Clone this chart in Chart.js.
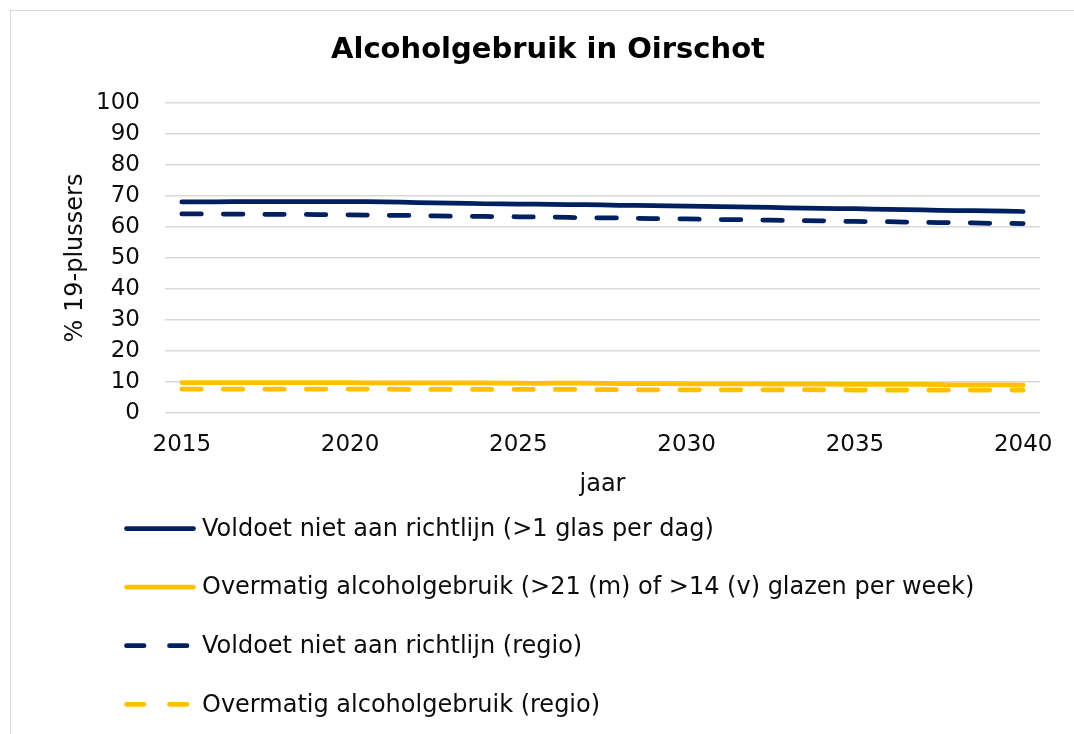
<!DOCTYPE html>
<html lang="nl">
<head>
  <meta charset="UTF-8" />
  <title>Alcoholgebruik in Oirschot</title>
  <script src="https://cdn.jsdelivr.net/npm/chart.js"></script>
  <style>
    body {
      margin: 0;
      background: #ffffff;
      font-family: "DejaVu Sans", Verdana, sans-serif;
    }

    .frame {
      position: absolute;
      left: 10px;
      top: 10px;
      width: 1100px;
      height: 760px;
      border: 1px solid #d9d9d9;
    }

    .wrap {
      position: absolute;
      left: 0;
      top: 0;
      width: 1074px;
      height: 734px;
    }
  </style>
</head>
<body>

<div class="frame"></div>
<div class="wrap">
  <canvas id="grafiek" width="1074" height="734"></canvas>
</div>

<script>
  // jaren op de x-as
  const jaren = ['2015', '2016', '2017', '2018', '2019', '2020', '2021', '2022', '2023', '2024', '2025', '2026', '2027',
                 '2028', '2029', '2030', '2031', '2032', '2033', '2034', '2035', '2036', '2037', '2038', '2039', '2040'];

  // Oirschot
  const richtlijn = [68.1, 68.1, 68.2, 68.2, 68.2, 68.2, 68.1, 67.9, 67.7, 67.5, 67.4, 67.3, 67.2,
                     67.0, 66.9, 66.7, 66.6, 66.4, 66.2, 66.0, 65.9, 65.7, 65.5, 65.3, 65.2, 65.0];
  const overmatig = [9.8, 9.8, 9.8, 9.8, 9.8, 9.8, 9.7, 9.7, 9.7, 9.7, 9.6, 9.6, 9.6,
                     9.5, 9.5, 9.4, 9.4, 9.4, 9.3, 9.3, 9.2, 9.2, 9.2, 9.1, 9.1, 9.0];

  // regio
  const richtlijnRegio = [64.2, 64.2, 64.1, 64.1, 64.0, 63.9, 63.8, 63.7, 63.5, 63.4, 63.3, 63.2, 63.0,
                          62.9, 62.7, 62.6, 62.4, 62.3, 62.1, 62.0, 61.8, 61.7, 61.5, 61.4, 61.2, 61.1];
  const overmatigRegio = [7.7, 7.7, 7.7, 7.7, 7.7, 7.7, 7.7, 7.6, 7.6, 7.6, 7.6, 7.6, 7.6,
                          7.5, 7.5, 7.5, 7.5, 7.5, 7.5, 7.5, 7.4, 7.4, 7.4, 7.4, 7.4, 7.4];

  const labels = [
    'Voldoet niet aan richtlijn (>1 glas per dag)',
    'Overmatig alcoholgebruik (>21 (m) of >14 (v) glazen per week)',
    'Voldoet niet aan richtlijn (regio)',
    'Overmatig alcoholgebruik (regio)'
  ];

  const titel = 'Alcoholgebruik in Oirschot';
  const yMin = 0, yMax = 100, yStap = 10;

  const blauw = '#002060';
  const geel = '#FFC000';
  const streep = [19.5, 22];
  const dikte = 4.75;
  const tekstKleur = '#0d0d0d';
  const letter = '"DejaVu Sans", Verdana, sans-serif';

  function lijn(label, data, kleur, gestreept) {
    return {
      label: label,
      data: data,
      borderColor: kleur,
      backgroundColor: kleur,
      borderWidth: dikte,
      borderDash: gestreept ? streep : [],
      borderCapStyle: 'round',
      borderJoinStyle: 'round',
      pointRadius: 0,
      tension: 0.3,
      fill: false
    };
  }

  // titel (gecentreerd over het hele kader) en legenda onder de grafiek, één regel per reeks
  const titelEnLegenda = {
    id: 'titelEnLegenda',
    afterDraw(chart) {
      const ctx = chart.ctx;
      ctx.save();
      ctx.fillStyle = '#000000';
      ctx.font = 'bold 29px ' + letter;
      ctx.textAlign = 'center';
      ctx.textBaseline = 'middle';
      ctx.fillText(titel, 548, 50);
      ctx.restore();

      chart.data.datasets.forEach((ds, i) => {
        const y = 528.5 + i * 58.6;
        ctx.save();
        ctx.strokeStyle = ds.borderColor;
        ctx.lineWidth = ds.borderWidth;
        ctx.lineCap = 'round';
        ctx.setLineDash(ds.borderDash.length ? [17.5, 25.5] : []);
        ctx.beginPath();
        ctx.moveTo(126.5, y);
        ctx.lineTo(193.5, y);
        ctx.stroke();
        ctx.setLineDash([]);
        ctx.fillStyle = tekstKleur;
        ctx.font = '24px ' + letter;
        ctx.textBaseline = 'middle';
        ctx.fillText(ds.label, 202, y + 1);
        ctx.restore();
      });
    }
  };

  new Chart(document.getElementById('grafiek'), {
    type: 'line',
    data: {
      labels: jaren,
      datasets: [
        lijn(labels[0], richtlijn, blauw, false),
        lijn(labels[1], overmatig, geel, false),
        lijn(labels[2], richtlijnRegio, blauw, true),
        lijn(labels[3], overmatigRegio, geel, true)
      ]
    },
    options: {
      responsive: false,
      animation: false,
      events: [],
      layout: {
        padding: { left: 0, right: 34, top: 103, bottom: 231 }
      },
      plugins: {
        legend: { display: false },
        tooltip: { enabled: false },
        title: { display: false }
      },
      scales: {
        x: {
          type: 'category',
          offset: true,
          grid: { display: false },
          border: { display: false },
          ticks: {
            autoSkip: false,
            maxRotation: 0,
            padding: 10,
            color: tekstKleur,
            font: { family: letter, size: 23 },
            callback: function (value, index) {
              return index % 5 === 0 ? this.getLabelForValue(value) : '';
            }
          },
          title: {
            display: true,
            text: 'jaar',
            color: tekstKleur,
            font: { family: letter, size: 24 },
            padding: { top: 0, bottom: 4 }
          },
          afterFit(scale) { scale.height = 90; }
        },
        y: {
          min: yMin,
          max: yMax,
          grid: { color: '#d9d9d9', lineWidth: 1.6, drawTicks: false },
          border: { display: false },
          ticks: {
            stepSize: yStap,
            padding: 25,
            color: tekstKleur,
            font: { family: letter, size: 23 }
          },
          title: {
            display: true,
            text: '% 19-plussers',
            color: tekstKleur,
            font: { family: letter, size: 24 },
            padding: { top: 61, bottom: 0 }
          },
          afterFit(scale) { scale.width = 165; }
        }
      }
    },
    plugins: [titelEnLegenda]
  });
</script>

</body>
</html>
